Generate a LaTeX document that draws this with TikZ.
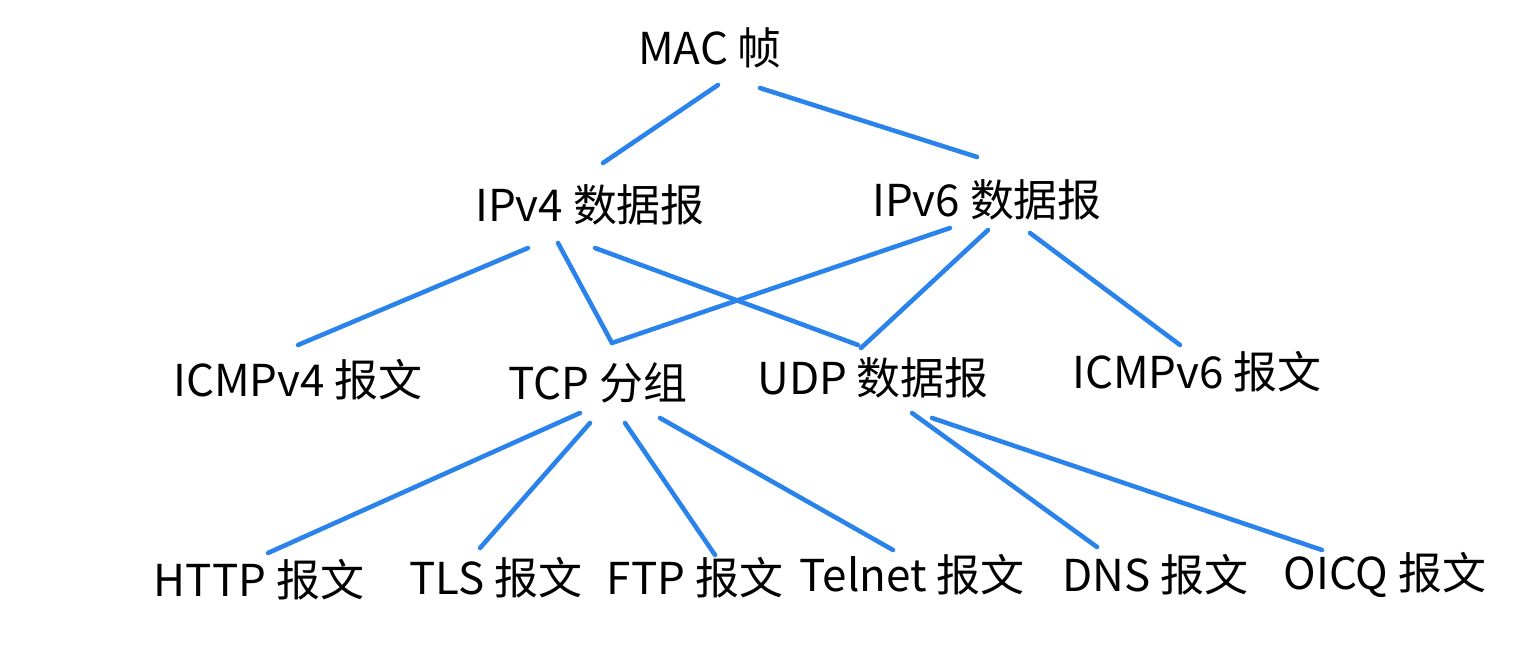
\documentclass[tikz,border=0pt]{standalone}
\usepackage{fontspec}
\setmainfont{Noto Sans CJK SC}
\usepackage{tikz}
\usetikzlibrary{calc}
\definecolor{linkblue}{RGB}{42,130,235}
\tikzset{
    pdu/.style={inner sep=0pt, font=\fontsize{25}{28}\selectfont},
    link/.style={draw=linkblue, line width=2.6pt, line cap=round}}

\begin{document}
\begin{tikzpicture}[x=0.02cm, y=-0.02cm]
        \useasboundingbox (0,0) rectangle (1536,652);

            \node[pdu] (mac) at (710,48) {MAC 帧};

            \node[pdu] (ipv4) at (590,205) {IPv4 数据报};
            \node[pdu] (ipv6) at (987,200) {IPv6 数据报};

            \node[pdu] (icmpv4) at (298,380) {ICMPv4 报文};
            \node[pdu] (tcp) at (598,383) {TCP 分组};
            \node[pdu] (udp) at (873,378) {UDP 数据报};
            \node[pdu] (icmpv6) at (1197,372) {ICMPv6 报文};

            \node[pdu] (http) at (259,580) {HTTP 报文};
            \node[pdu] (tls) at (496,578) {TLS 报文};
            \node[pdu] (ftp) at (695,578) {FTP 报文};
            \node[pdu] (telnet) at (912,575) {Telnet 报文};
            \node[pdu] (dns) at (1155,575) {DNS 报文};
            \node[pdu] (oicq) at (1385,575) {OICQ 报文};

            % link layer -> network layer
            \draw[link] ($(mac)+(8,37)$) -- ($(ipv4)+(13,-42)$);
            \draw[link] ($(mac)+(50,40)$) -- ($(ipv6)+(-10,-43)$);

            % network layer -> transport layer
            \draw[link] ($(ipv4)+(-62,43)$) -- ($(icmpv4)+(0,-35)$);
            \draw[link] ($(ipv4)+(-32,38)$) -- ($(tcp)+(14,-40)$);
            \draw[link] ($(ipv4)+(5,43)$) -- ($(udp)+(-15,-33)$);
            \draw[link] ($(ipv6)+(-37,28)$) -- ($(tcp)+(14,-40)$);
            \draw[link] ($(ipv6)+(1,30)$) -- ($(udp)+(-12,-30)$);
            \draw[link] ($(ipv6)+(43,33)$) -- ($(icmpv6)+(-17,-27)$);

            % transport layer -> application layer
            \draw[link] ($(tcp)+(-18,30)$) -- ($(http)+(9,-27)$);
            \draw[link] ($(tcp)+(-8,40)$) -- ($(tls)+(-16,-30)$);
            \draw[link] ($(tcp)+(27,40)$) -- ($(ftp)+(20,-23)$);
            \draw[link] ($(tcp)+(62,35)$) -- ($(telnet)+(-19,-25)$);
            \draw[link] ($(udp)+(39,35)$) -- ($(dns)+(-58,-28)$);
            \draw[link] ($(udp)+(59,40)$) -- ($(oicq)+(-63,-25)$);

        \end{tikzpicture}
\end{document}
